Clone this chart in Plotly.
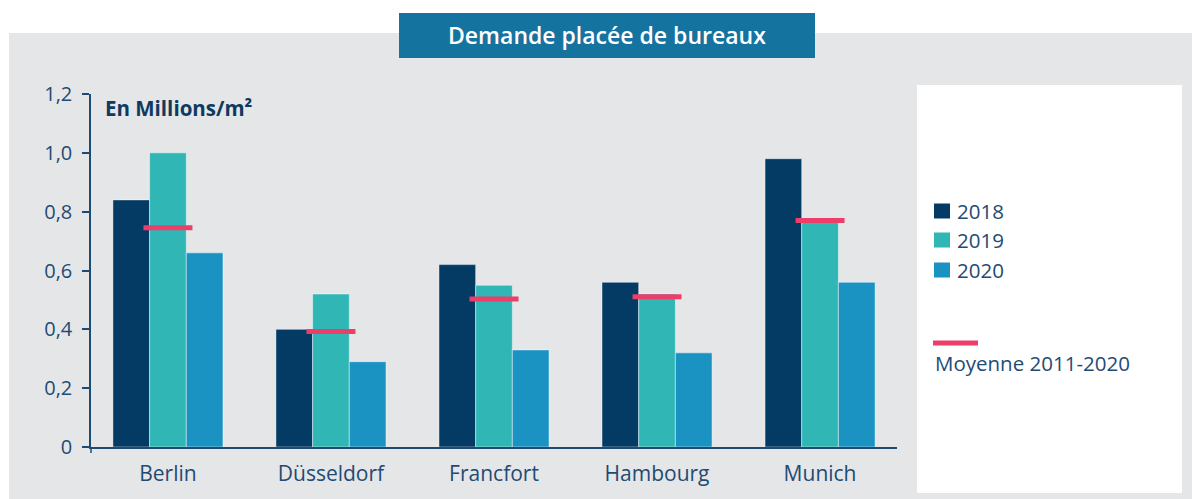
import plotly.graph_objects as go

# ---- data ----
cities = ["Berlin", "Düsseldorf", "Francfort", "Hambourg", "Munich"]
years = ["2018", "2019", "2020"]
v2018 = [0.84, 0.40, 0.62, 0.56, 0.98]
v2019 = [1.00, 0.52, 0.55, 0.52, 0.765]
v2020 = [0.66, 0.29, 0.33, 0.32, 0.56]
moyenne = [0.745, 0.393, 0.503, 0.511, 0.77]
mean_label = "Moyenne 2011-2020"
ytickvals = [0, 0.2, 0.4, 0.6, 0.8, 1.0, 1.2]
yticktext = ["0", "0,2", "0,4", "0,6", "0,8", "1,0", "1,2"]
title_text = "Demande placée de bureaux"
unit_text = "En Millions/m²"

# ---- style ----
colors = ["#033B64", "#31B6B6", "#1A93C3"]
mean_color = "#EC3E68"
text_color = "#1F4B73"
dark_text = "#0E3A60"
gray_bg = "#E5E6E8"
title_bg = "#1573A0"
FONT = "Open Sans"

W, H = 1192, 499
L, R, T, B = 91, 295, 94, 52
PW, PH = W - L - R, H - T - B


def px(x):
    return (x - L) / PW


def py(y):
    return (H - B - y) / PH


fig = go.Figure()
series = [v2018, v2019, v2020]
for name, vals, col in zip(years, series, colors):
    fig.add_trace(go.Bar(
        x=cities, y=vals, name=name,
        marker=dict(color=col, line=dict(color="rgba(255,255,255,0.45)", width=1)),
        showlegend=False,
    ))

fig.add_trace(go.Scatter(
    x=cities, y=moyenne, name=mean_label, mode="markers",
    marker=dict(symbol="line-ew", size=35,
                line=dict(color=mean_color, width=5)),
    showlegend=False,
))

shapes = [
    dict(type="rect", xref="paper", yref="paper", x0=px(9), x1=px(1192),
         y0=py(33), y1=py(499), fillcolor=gray_bg, line=dict(width=0), layer="below"),
    dict(type="rect", xref="paper", yref="paper", x0=px(399), x1=px(815),
         y0=py(13), y1=py(58), fillcolor=title_bg, line=dict(width=0), layer="below"),
    dict(type="rect", xref="paper", yref="paper", x0=px(917), x1=px(1182),
         y0=py(85), y1=py(493), fillcolor="white", line=dict(width=0), layer="below"),
    dict(type="line", xref="paper", yref="paper", x0=px(933), x1=px(978),
         y0=py(343), y1=py(343), line=dict(color=mean_color, width=5), layer="above"),
    dict(type="line", xref="paper", yref="paper", x0=0, x1=0,
         y0=py(447), y1=py(453), line=dict(color=text_color, width=1.5), layer="above"),
]
annotations = [
    dict(text=title_text, xref="paper", yref="paper", x=px(607), y=py(35),
         xanchor="center", yanchor="middle", showarrow=False,
         font=dict(family=FONT, size=23, color="white", weight=600)),
    dict(text=unit_text, xref="paper", yref="paper", x=px(103), y=py(108),
         xanchor="left", yanchor="middle", showarrow=False,
         font=dict(family=FONT, size=20.5, color=dark_text, weight=700)),
    dict(text=mean_label, xref="paper", yref="paper", x=px(933), y=py(363),
         xanchor="left", yanchor="middle", showarrow=False,
         font=dict(family=FONT, size=20.5, color=text_color)),
]
leg_y = [211, 240, 270]
for name, col, yc in zip(years, colors, leg_y):
    shapes.append(dict(type="rect", xref="paper", yref="paper",
                       x0=px(934), x1=px(950), y0=py(yc - 7.5), y1=py(yc + 7.5),
                       fillcolor=col, line=dict(width=0), layer="above"))
    annotations.append(dict(text=name, xref="paper", yref="paper", x=px(955), y=py(yc),
                            xanchor="left", yanchor="middle", showarrow=False,
                            font=dict(family=FONT, size=20.5, color=text_color)))

fig.update_layout(
    width=W, height=H,
    margin=dict(l=L, r=R, t=T, b=B, pad=0),
    paper_bgcolor="white",
    plot_bgcolor="rgba(0,0,0,0)",
    barmode="group", bargap=0.325, bargroupgap=0,
    font=dict(family=FONT, color=text_color),
    shapes=shapes, annotations=annotations,
    showlegend=False,
    xaxis=dict(
        type="category", range=[-0.472, 4.472],
        showline=True, linecolor=text_color, linewidth=1.5,
        ticks="", showgrid=False, zeroline=False,
        tickfont=dict(family=FONT, size=21, color=text_color),
        ticklabelstandoff=7,
    ),
    yaxis=dict(
        range=[0, 1.2], tickvals=ytickvals, ticktext=yticktext,
        showline=True, linecolor=text_color, linewidth=1.5,
        ticks="outside", ticklen=7, tickcolor=text_color, tickwidth=1.5,
        showgrid=False, zeroline=False,
        tickfont=dict(family=FONT, size=20, color=text_color),
        ticklabelstandoff=6,
    ),
)

fig.write_html("out.html", config={"displayModeBar": False},
               post_script="document.body.style.margin='0';document.body.style.overflow='hidden';")
